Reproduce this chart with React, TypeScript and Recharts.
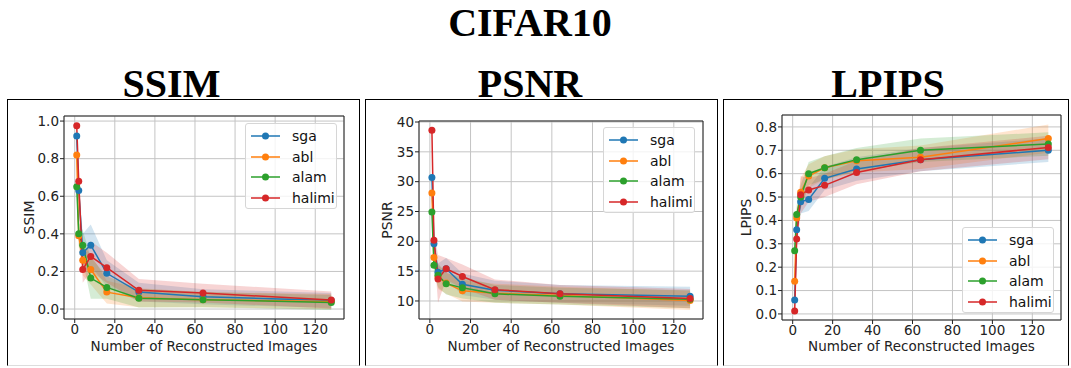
import React from 'react';
import {
  ComposedChart,
  Line,
  Area,
  XAxis,
  YAxis,
  CartesianGrid,
  ReferenceArea,
} from 'recharts';

// number of reconstructed images
const imageCounts = [1, 2, 4, 8, 16, 32, 64, 128];
const methods = ['sga', 'abl', 'alam', 'halimi'];
const methodColors: Record<string, string> = {
  sga: '#1f77b4',
  abl: '#ff7f0e',
  alam: '#2ca02c',
  halimi: '#d62728',
};

// SSIM
const ssimMean: Record<string, number[]> = {
  sga: [0.92, 0.63, 0.3, 0.34, 0.19, 0.09, 0.065, 0.045],
  abl: [0.82, 0.39, 0.26, 0.21, 0.09, 0.06, 0.05, 0.04],
  alam: [0.65, 0.4, 0.34, 0.165, 0.115, 0.058, 0.05, 0.035],
  halimi: [0.975, 0.68, 0.21, 0.28, 0.22, 0.1, 0.085, 0.048],
};
const ssimStd: Record<string, number[]> = {
  sga: [0.03, 0.05, 0.1, 0.11, 0.07, 0.05, 0.04, 0.04],
  abl: [0.03, 0.06, 0.08, 0.08, 0.06, 0.05, 0.04, 0.04],
  alam: [0.03, 0.06, 0.08, 0.11, 0.06, 0.05, 0.04, 0.04],
  halimi: [0.02, 0.05, 0.07, 0.08, 0.08, 0.06, 0.05, 0.045],
};

// PSNR
const psnrMean: Record<string, number[]> = {
  sga: [30.7, 19.6, 14.8, 15.4, 12.8, 11.8, 11.2, 10.8],
  abl: [28.1, 17.3, 14.0, 13.0, 11.7, 11.3, 10.9, 10.1],
  alam: [24.9, 16.0, 14.3, 12.9, 12.2, 11.2, 10.8, 10.3],
  halimi: [38.6, 20.2, 13.7, 15.4, 14.1, 11.9, 11.2, 10.4],
};
const psnrStd: Record<string, number[]> = {
  sga: [1.0, 1.5, 1.5, 1.8, 1.8, 1.6, 1.5, 1.6],
  abl: [1.0, 1.5, 2.0, 1.8, 1.8, 1.6, 1.5, 1.6],
  alam: [1.0, 1.5, 2.0, 1.8, 1.8, 1.5, 1.4, 1.5],
  halimi: [0.8, 1.5, 4.0, 1.8, 2.0, 1.7, 1.5, 1.6],
};

// LPIPS
const lpipsMean: Record<string, number[]> = {
  sga: [0.06, 0.36, 0.48, 0.49, 0.58, 0.62, 0.66, 0.7],
  abl: [0.14, 0.41, 0.52, 0.59, 0.625, 0.655, 0.67, 0.75],
  alam: [0.27, 0.425, 0.5, 0.6, 0.625, 0.66, 0.7, 0.727],
  halimi: [0.012, 0.32, 0.51, 0.53, 0.55, 0.605, 0.66, 0.712],
};
const lpipsStd: Record<string, number[]> = {
  sga: [0.02, 0.04, 0.05, 0.05, 0.05, 0.05, 0.05, 0.05],
  abl: [0.02, 0.04, 0.06, 0.05, 0.05, 0.05, 0.05, 0.06],
  alam: [0.02, 0.04, 0.05, 0.05, 0.05, 0.05, 0.05, 0.05],
  halimi: [0.01, 0.04, 0.08, 0.05, 0.05, 0.05, 0.05, 0.05],
};

const xTicks = [0, 20, 40, 60, 80, 100, 120];
const ssimTicks = [0, 0.2, 0.4, 0.6, 0.8, 1.0];
const psnrTicks = [10, 15, 20, 25, 30, 35, 40];
const lpipsTicks = [0, 0.1, 0.2, 0.3, 0.4, 0.5, 0.6, 0.7, 0.8];

const FONT = '"DejaVu Sans", sans-serif';
const X_DOMAIN: [number, number] = [-5.35, 134.35];

function buildRows(mean: Record<string, number[]>, std: Record<string, number[]>) {
  return imageCounts.map((n, i) => {
    const row: any = { n };
    methods.forEach((m) => {
      row[m] = mean[m][i];
      row[m + '_band'] = [mean[m][i] - std[m][i], mean[m][i] + std[m][i]];
    });
    return row;
  });
}

type PanelProps = {
  box: { left: number; top: number; width: number; height: number };
  plot: { top: number; right: number; yw: number; xh: number };
  yDomain: [number, number];
  yTicks: number[];
  fmt: (v: number) => string;
  rows: any[];
  legend: { left: number; top: number };
};

function Legend({ left, top }: { left: number; top: number }) {
  return (
    <div
      style={{
        position: 'absolute',
        left,
        top,
        width: 92,
        height: 86,
        boxSizing: 'border-box',
        border: '1px solid #d6d6d6',
        borderRadius: 3,
        background: 'rgba(255,255,255,0.8)',
        fontFamily: FONT,
        fontSize: 14,
        color: '#111',
      }}
    >
      {methods.map((m, i) => (
        <div
          key={m}
          style={{ position: 'absolute', left: 5, top: 2 + i * 20.7, height: 20, display: 'flex', alignItems: 'center' }}
        >
          <svg width={30} height={10}>
            <line x1={0} y1={5} x2={29} y2={5} stroke={methodColors[m]} strokeWidth={1.5} />
            <circle cx={14.5} cy={5} r={3.5} fill={methodColors[m]} />
          </svg>
          <span style={{ marginLeft: 11 }}>{m}</span>
        </div>
      ))}
    </div>
  );
}

function Panel({ box, plot, yDomain, yTicks, fmt, rows, legend }: PanelProps) {
  return (
    <div style={{ position: 'absolute', left: box.left, top: box.top, width: box.width, height: box.height }}>
      <div
        style={{
          position: 'absolute',
          inset: 0,
          border: '1.5px solid #000',
          borderBottomColor: '#ddd',
          boxSizing: 'border-box',
        }}
      />
      <ComposedChart
        width={box.width}
        height={box.height}
        data={rows}
        margin={{ top: plot.top, right: plot.right, left: 0, bottom: 0 }}
      >
        <CartesianGrid stroke="#c4c4c4" strokeWidth={1} />
        <XAxis
          dataKey="n"
          type="number"
          domain={X_DOMAIN}
          allowDataOverflow
          ticks={xTicks}
          height={plot.xh}
          axisLine={false}
          tickSize={4}
          tickMargin={1}
          tickLine={{ stroke: '#222' }}
          tick={{ fill: '#222', fontSize: 13.5, fontFamily: FONT }}
          label={{
            value: 'Number of Reconstructed Images',
            position: 'insideBottom',
            offset: 15,
            fill: '#222',
            fontSize: 13.5,
            fontFamily: FONT,
          }}
        />
        <YAxis
          type="number"
          domain={yDomain}
          allowDataOverflow
          ticks={yTicks}
          width={plot.yw}
          axisLine={false}
          tickSize={4}
          tickMargin={1}
          tickFormatter={fmt}
          tickLine={{ stroke: '#222' }}
          tick={{ fill: '#222', fontSize: 13.5, fontFamily: FONT }}
        />
        {methods.map((m) => (
          <Area
            key={m + 'b'}
            dataKey={m + '_band'}
            type="linear"
            stroke="none"
            fill={methodColors[m]}
            fillOpacity={0.2}
            isAnimationActive={false}
            dot={false}
            activeDot={false}
          />
        ))}
        {methods.map((m) => (
          <Line
            key={m}
            dataKey={m}
            type="linear"
            stroke={methodColors[m]}
            strokeWidth={1.5}
            dot={{ r: 3.5, fill: methodColors[m], stroke: 'none' }}
            activeDot={false}
            isAnimationActive={false}
          />
        ))}
        <ReferenceArea
          x1={X_DOMAIN[0]}
          x2={X_DOMAIN[1]}
          y1={yDomain[0]}
          y2={yDomain[1]}
          fill="none"
          stroke="#222"
          strokeWidth={1}
          ifOverflow="visible"
        />
      </ComposedChart>
      <Legend left={legend.left} top={legend.top} />
    </div>
  );
}

export default function App() {
  const ssimRows = buildRows(ssimMean, ssimStd);
  const psnrRows = buildRows(psnrMean, psnrStd);
  const lpipsRows = buildRows(lpipsMean, lpipsStd);
  const serif = '"Liberation Serif", "Times New Roman", serif';
  return (
    <div style={{ position: 'absolute', left: 0, top: 0, width: 1071, height: 368, background: '#fff', overflow: 'hidden' }}>
      <Panel
        box={{ left: 7, top: 99, width: 353, height: 267 }}
        plot={{ top: 17, right: 16, yw: 57, xh: 47 }}
        yDomain={[-0.053, 1.027]}
        yTicks={ssimTicks}
        fmt={(v) => v.toFixed(1)}
        rows={ssimRows}
        legend={{ left: 238, top: 24 }}
      />
      <Panel
        box={{ left: 365, top: 99, width: 353, height: 267 }}
        plot={{ top: 22, right: 15, yw: 54, xh: 47 }}
        yDomain={[6.98, 40.17]}
        yTicks={psnrTicks}
        fmt={(v) => String(v)}
        rows={psnrRows}
        legend={{ left: 238, top: 28 }}
      />
      <Panel
        box={{ left: 723, top: 99, width: 346, height: 267 }}
        plot={{ top: 16, right: 8, yw: 59, xh: 46 }}
        yDomain={[-0.026, 0.851]}
        yTicks={lpipsTicks}
        fmt={(v) => v.toFixed(1)}
        rows={lpipsRows}
        legend={{ left: 239, top: 128 }}
      />
      <svg width={1071} height={368} style={{ position: 'absolute', left: 0, top: 0, pointerEvents: 'none' }}>
        <text x={530} y={36} textAnchor="middle" fontFamily={serif} fontWeight="bold" fontSize={40} fill="#000">
          CIFAR10
        </text>
        <text x={171.5} y={97} textAnchor="middle" fontFamily={serif} fontWeight="bold" fontSize={40} fill="#000">
          SSIM
        </text>
        <text x={530} y={97} textAnchor="middle" fontFamily={serif} fontWeight="bold" fontSize={40} fill="#000">
          PSNR
        </text>
        <text x={888} y={97} textAnchor="middle" fontFamily={serif} fontWeight="bold" fontSize={40} fill="#000">
          LPIPS
        </text>
        <text
          x={28.5}
          y={217.5}
          transform="rotate(-90 28.5 217.5)"
          textAnchor="middle"
          dominantBaseline="central"
          fontFamily={FONT}
          fontSize={14}
          fill="#222"
        >
          SSIM
        </text>
        <text
          x={387}
          y={220}
          transform="rotate(-90 387 220)"
          textAnchor="middle"
          dominantBaseline="central"
          fontFamily={FONT}
          fontSize={14}
          fill="#222"
        >
          PSNR
        </text>
        <text
          x={746}
          y={217.5}
          transform="rotate(-90 746 217.5)"
          textAnchor="middle"
          dominantBaseline="central"
          fontFamily={FONT}
          fontSize={14}
          fill="#222"
        >
          LPIPS
        </text>
      </svg>
    </div>
  );
}
